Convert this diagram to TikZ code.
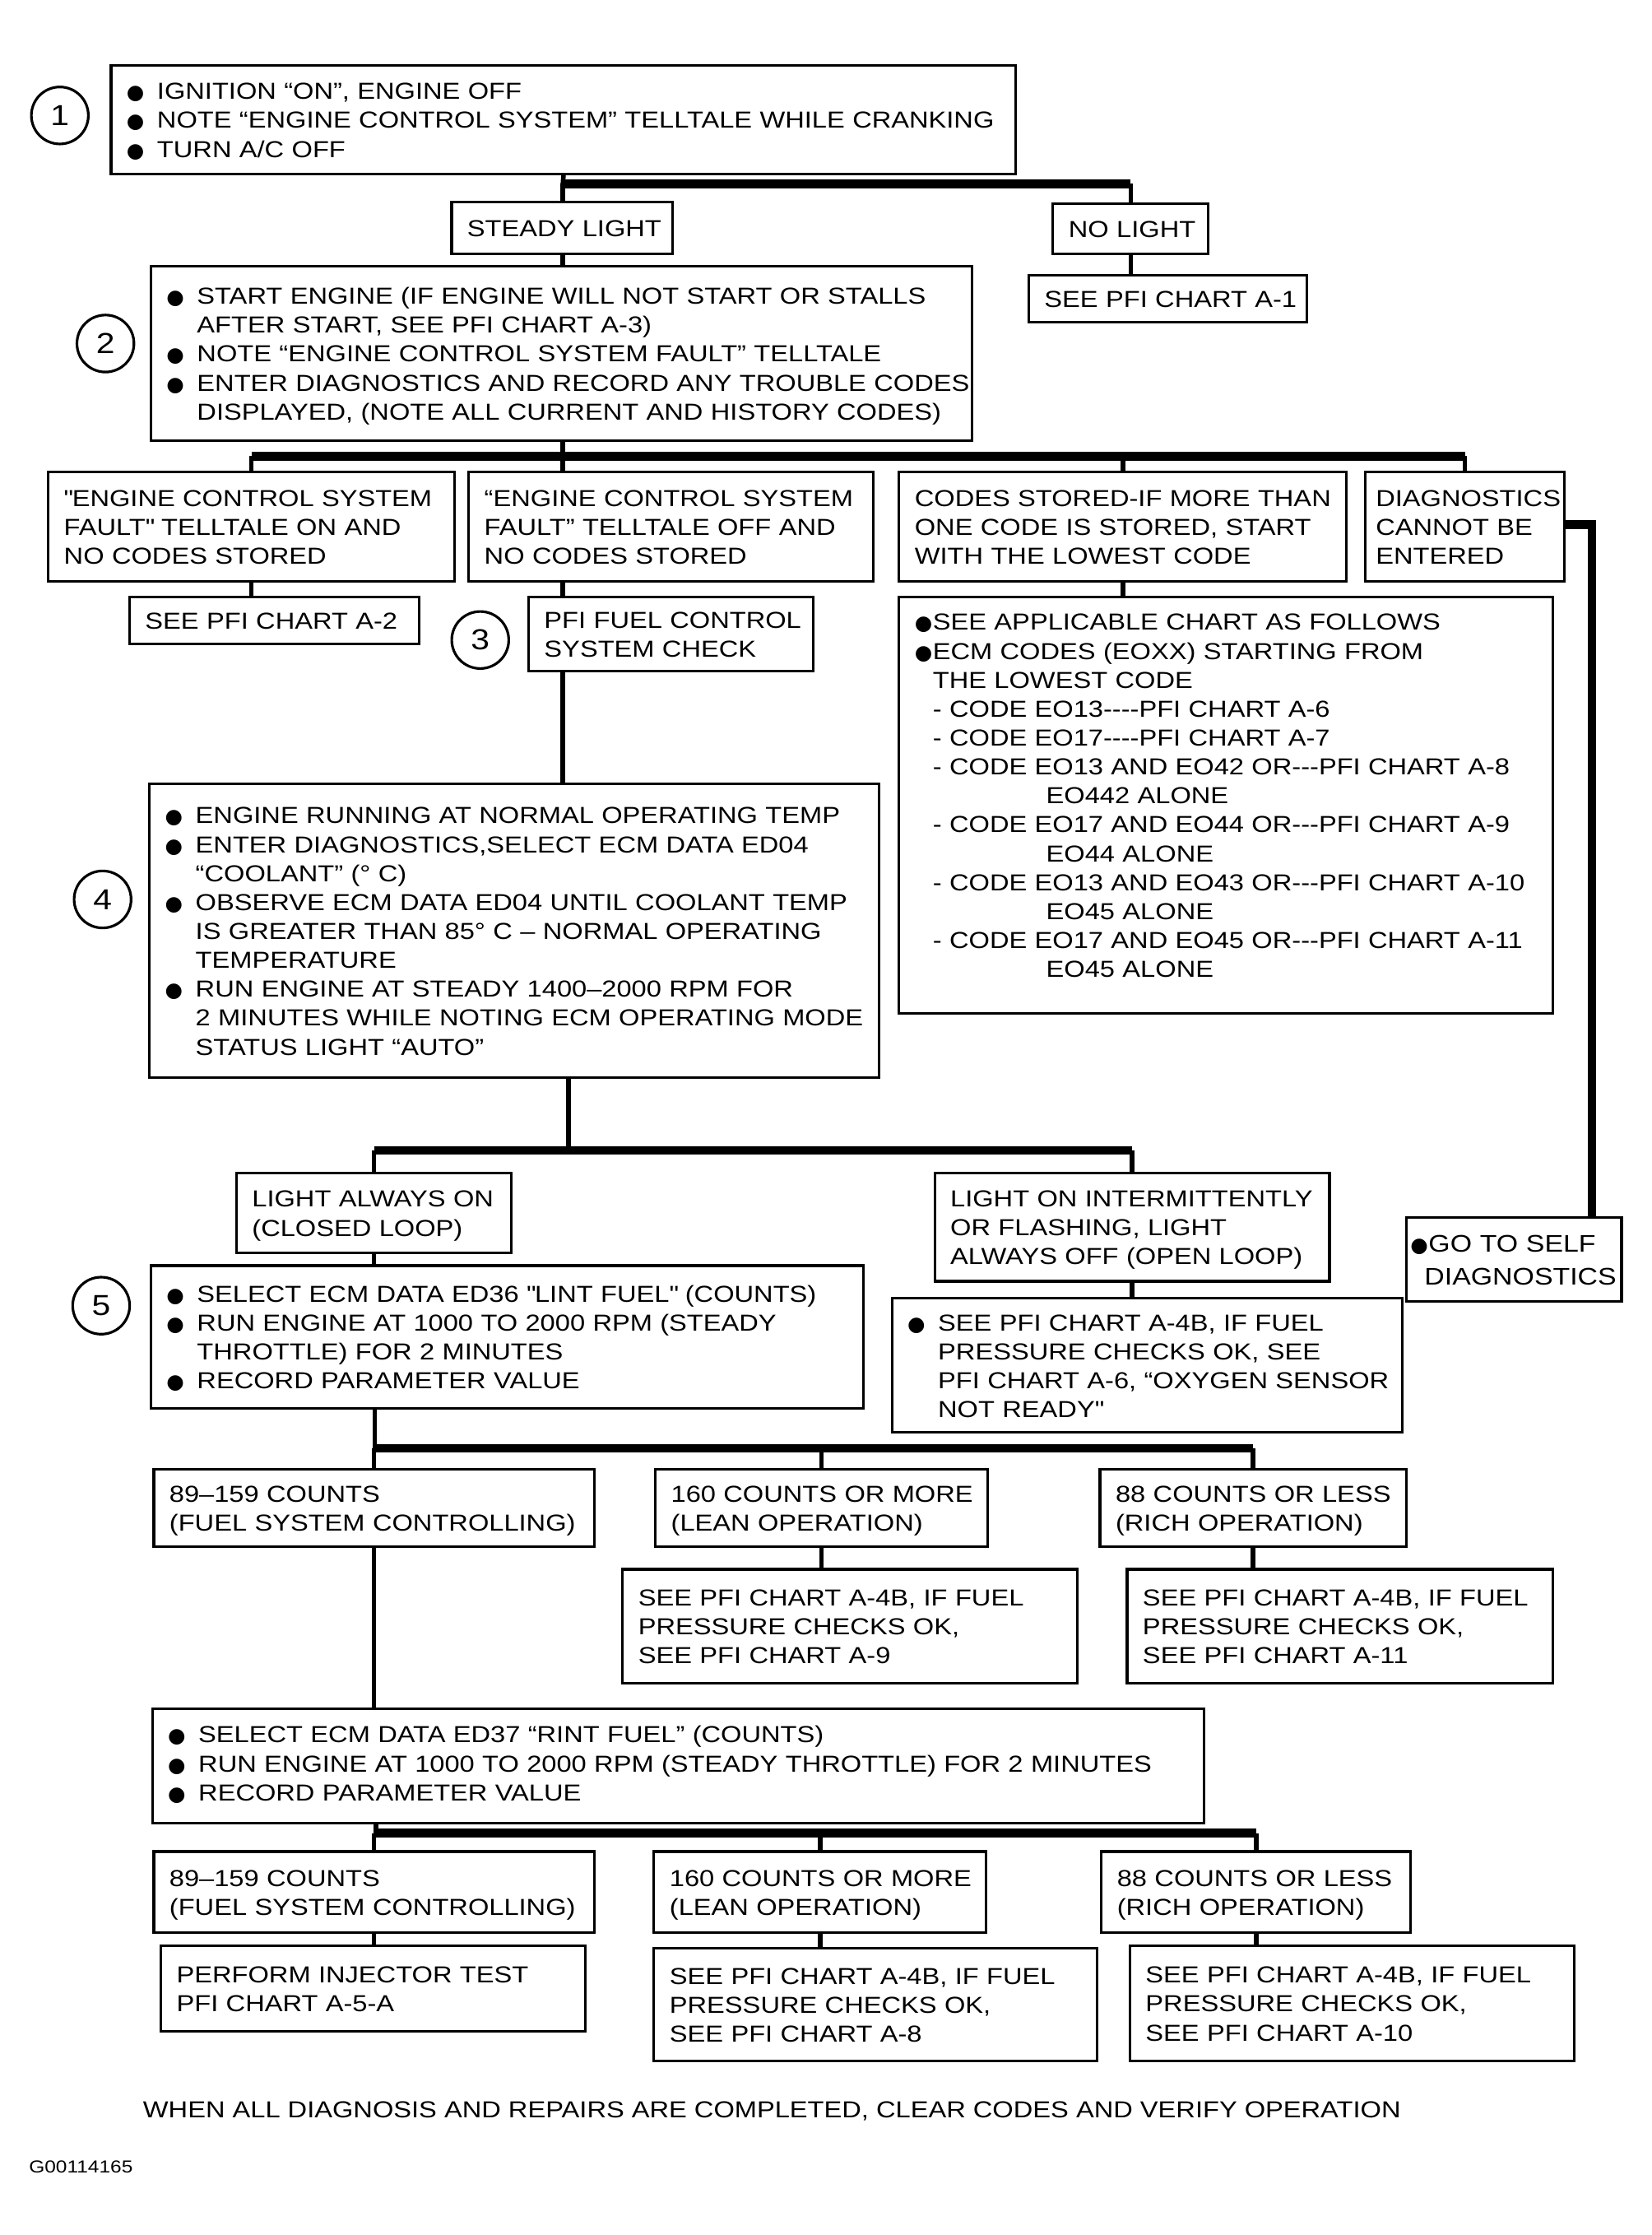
\documentclass[tikz,border=0pt]{standalone}
\usepackage{fontspec}
\setmainfont{Liberation Sans}[FakeStretch=1.16]
\newfontfamily\dotfont{DejaVu Sans}
\usetikzlibrary{calc}

\def\ux{0.017325cm}
\newcommand{\bul}{\makebox[0.37cm][l]{\dotfont\fontsize{7}{7}\selectfont ●}}
\newcommand{\bult}{\makebox[0.22cm][l]{\dotfont\fontsize{7}{7}\selectfont ●}}
\newcommand{\skipb}{\hspace*{0.37cm}}
\newcommand{\skipt}{\hspace*{0.22cm}}
\newcommand{\qq}{\textquotedbl}
\newcommand{\lns}[2][-1pt]{\raisebox{#1}[\height][\depth]{\begin{tabular}{@{}l@{}}#2\end{tabular}}}

\begin{document}
\begin{tikzpicture}[x=\ux, y=-\ux, font=\fontsize{8}{10}\selectfont,
  bx/.style={draw, line width=0.9pt, anchor=north west, align=left,
             inner xsep=0.19cm, inner ysep=0pt},
  wh/.style 2 args={text width=#1*\ux-0.38cm, minimum height=#2*\ux},
  num/.style={draw, circle, line width=0.9pt, minimum size=40*\ux,
              inner sep=0pt, font=\fontsize{10}{10}\selectfont},
  vl/.style={line width=1.6pt},
  bus/.style={line width=3pt}]

\fill[white] (0,0) rectangle (1159,1568);

% step 1
\node[num] (n1) at (42,81) {1};
\node[bx, wh={635}{76}] (start) at (77,45) {\lns{%
  \bul IGNITION “ON”, ENGINE OFF\\
  \bul NOTE “ENGINE CONTROL SYSTEM” TELLTALE WHILE CRANKING\\
  \bul TURN A/C OFF}};
\node[bx, wh={155}{36}] (steady) at (316,141) {\lns{STEADY LIGHT}};
\node[bx, wh={109}{35}] (nolight) at (738,142) {\lns{NO LIGHT}};
\node[bx, wh={195}{33}] (a1) at (721,192) {\lns{SEE PFI CHART A-1}};

% step 2
\node[num] (n2) at (74,241) {2};
\node[bx, wh={576}{122}] (b2) at (105,186) {\lns{%
  \bul START ENGINE (IF ENGINE WILL NOT START OR STALLS\\
  \skipb AFTER START, SEE PFI CHART A-3)\\
  \bul NOTE “ENGINE CONTROL SYSTEM FAULT” TELLTALE\\
  \bul ENTER DIAGNOSTICS AND RECORD ANY TROUBLE CODES\\
  \skipb DISPLAYED, (NOTE ALL CURRENT AND HISTORY CODES)}};
\node[bx, wh={285}{77}] (fon) at (33,330) {\lns{%
  \qq ENGINE CONTROL SYSTEM\\ FAULT\qq{} TELLTALE ON AND\\ NO CODES STORED}};
\node[bx, wh={284}{77}] (foff) at (328,330) {\lns{%
  “ENGINE CONTROL SYSTEM\\ FAULT” TELLTALE OFF AND\\ NO CODES STORED}};
\node[bx, wh={314}{77}] (codes) at (630,330) {\lns{%
  CODES STORED-IF MORE THAN\\ ONE CODE IS STORED, START\\ WITH THE LOWEST CODE}};
\node[bx, wh={140}{77}, inner xsep=0.13cm, text width=140*\ux-0.26cm] (nodiag) at (957,330)
  {\lns{DIAGNOSTICS\\ CANNOT BE\\ ENTERED}};
\node[bx, wh={203}{33}] (a2) at (90,418) {\lns{SEE PFI CHART A-2}};

% step 3
\node[num] (n3) at (337,449) {3};
\node[bx, wh={200}{52}] (check) at (370,418) {\lns{PFI FUEL CONTROL\\ SYSTEM CHECK}};
\node[bx, wh={459}{292}] (list) at (630,418) {\lns[2.5pt]{%
  \bult SEE APPLICABLE CHART AS FOLLOWS\\
  \bult ECM CODES (EOXX) STARTING FROM\\
  \skipt THE LOWEST CODE\\
  \skipt - CODE EO13-{}-{}-{}-PFI CHART A-6\\
  \skipt - CODE EO17-{}-{}-{}-PFI CHART A-7\\
  \skipt - CODE EO13 AND EO42 OR-{}-{}-PFI CHART A-8\\
  \skipt \phantom{- CODE }\hspace*{0.14cm}EO442 ALONE\\
  \skipt - CODE EO17 AND EO44 OR-{}-{}-PFI CHART A-9\\
  \skipt \phantom{- CODE }\hspace*{0.14cm}EO44 ALONE\\
  \skipt - CODE EO13 AND EO43 OR-{}-{}-PFI CHART A-10\\
  \skipt \phantom{- CODE }\hspace*{0.14cm}EO45 ALONE\\
  \skipt - CODE EO17 AND EO45 OR-{}-{}-PFI CHART A-11\\
  \skipt \phantom{- CODE }\hspace*{0.14cm}EO45 ALONE}};

% step 4
\node[num] (n4) at (72,631) {4};
\node[bx, wh={512}{206}] (b4) at (104,549) {\lns{%
  \bul ENGINE RUNNING AT NORMAL OPERATING TEMP\\
  \bul ENTER DIAGNOSTICS,SELECT ECM DATA ED04\\
  \skipb “COOLANT” (° C)\\
  \bul OBSERVE ECM DATA ED04 UNTIL COOLANT TEMP\\
  \skipb IS GREATER THAN 85° C – NORMAL OPERATING\\
  \skipb TEMPERATURE\\
  \bul RUN ENGINE AT STEADY 1400–2000 RPM FOR\\
  \skipb 2 MINUTES WHILE NOTING ECM OPERATING MODE\\
  \skipb STATUS LIGHT “AUTO”}};
\node[bx, wh={193}{56}] (alwon) at (165,822) {\lns{LIGHT ALWAYS ON\\ (CLOSED LOOP)}};
\node[bx, wh={277}{76}] (interm) at (655,822) {\lns{%
  LIGHT ON INTERMITTENTLY\\ OR FLASHING, LIGHT\\ ALWAYS OFF (OPEN LOOP)}};
\node[bx, wh={151}{59}, inner xsep=0.05cm, text width=151*\ux-0.1cm,
      font=\fontsize{8.3}{11.3}\selectfont] (self) at (986,853)
  {\lns{\bult GO TO SELF\\ \hspace*{0.17cm}DIAGNOSTICS}};

% step 5
\node[num] (n5) at (71,916) {5};
\node[bx, wh={500}{100}] (b5) at (105,887) {\lns{%
  \bul SELECT ECM DATA ED36 \qq LINT FUEL\qq{} (COUNTS)\\
  \bul RUN ENGINE AT 1000 TO 2000 RPM (STEADY\\
  \skipb THROTTLE) FOR 2 MINUTES\\
  \bul RECORD PARAMETER VALUE}};
\node[bx, wh={358}{94}] (oxy) at (625,910) {\lns{%
  \bul SEE PFI CHART A-4B, IF FUEL\\
  \skipb PRESSURE CHECKS OK, SEE\\
  \skipb PFI CHART A-6, “OXYGEN SENSOR\\
  \skipb NOT READY\qq}};
\node[bx, wh={309}{54}] (c1a) at (107,1030) {\lns{89–159 COUNTS\\ (FUEL SYSTEM CONTROLLING)}};
\node[bx, wh={233}{54}] (c1b) at (459,1030) {\lns{160 COUNTS OR MORE\\ (LEAN OPERATION)}};
\node[bx, wh={215}{54}] (c1c) at (771,1030) {\lns{88 COUNTS OR LESS\\ (RICH OPERATION)}};
\node[bx, wh={319}{80}] (r1b) at (436,1100) {\lns{%
  SEE PFI CHART A-4B, IF FUEL\\ PRESSURE CHECKS OK,\\ SEE PFI CHART A-9}};
\node[bx, wh={299}{80}] (r1c) at (790,1100) {\lns{%
  SEE PFI CHART A-4B, IF FUEL\\ PRESSURE CHECKS OK,\\ SEE PFI CHART A-11}};

% rint fuel
\node[bx, wh={738}{80}] (b6) at (106,1198) {\lns[0pt]{%
  \bul SELECT ECM DATA ED37 “RINT FUEL” (COUNTS)\\
  \bul RUN ENGINE AT 1000 TO 2000 RPM (STEADY THROTTLE) FOR 2 MINUTES\\
  \bul RECORD PARAMETER VALUE}};
\node[bx, wh={309}{57}] (c2a) at (107,1298) {\lns{89–159 COUNTS\\ (FUEL SYSTEM CONTROLLING)}};
\node[bx, wh={233}{57}] (c2b) at (458,1298) {\lns{160 COUNTS OR MORE\\ (LEAN OPERATION)}};
\node[bx, wh={217}{57}] (c2c) at (772,1298) {\lns{88 COUNTS OR LESS\\ (RICH OPERATION)}};
\node[bx, wh={298}{60}] (r2a) at (112,1364) {\lns{PERFORM INJECTOR TEST\\ PFI CHART A-5-A}};
\node[bx, wh={311}{79}] (r2b) at (458,1366) {\lns{%
  SEE PFI CHART A-4B, IF FUEL\\ PRESSURE CHECKS OK,\\ SEE PFI CHART A-8}};
\node[bx, wh={312}{81}] (r2c) at (792,1364) {\lns{%
  SEE PFI CHART A-4B, IF FUEL\\ PRESSURE CHECKS OK,\\ SEE PFI CHART A-10}};

\node[anchor=west, inner sep=0pt] (note) at (100,1481)
  {WHEN ALL DIAGNOSIS AND REPAIRS ARE COMPLETED, CLEAR CODES AND VERIFY OPERATION};
\node[anchor=west, inner sep=0pt, font=\fontsize{6}{7}\selectfont] (fig) at (20,1520) {G00114165};

% junctions of the branch lines
\coordinate (j1) at (395,129);
\coordinate (j2) at (395,320);
\coordinate (j3) at (1117,368);
\coordinate (j4) at (399,807);
\coordinate (j5) at (263,1016);
\coordinate (j6) at (264,1286);

% connectors
\draw[vl] (start.south) -- (j1);
\draw[bus] (j1) -- (j1 -| nolight.north);
\draw[vl] (j1 -| nolight.north) -- (nolight.north);
\draw[vl] (j1) -- (j1 |- steady.north);
\draw[vl] (j1 |- steady.south) -- (j1 |- b2.north);
\draw[vl] (nolight.south) -- (nolight.south |- a1.north);

\draw[vl] (j2 |- b2.south) -- (j2);
\draw[bus] (j2 -| fon.north) -- (j2 -| nodiag.north);
\foreach \n in {fon,codes,nodiag}
  \draw[vl] (j2 -| \n.north) -- (\n.north);
\draw[vl] (j2) -- (j2 |- foff.north);
\draw[vl] (fon.south) -- (fon.south |- a2.north);
\draw[vl] (j2 |- foff.south) -- (j2 |- check.north);
\draw[vl] (codes.south) -- (codes.south |- list.north);
\draw[bus] (nodiag.east |- j3) -- (j3) -- (j3 |- self.north);

\draw[vl] (j2 |- check.south) -- (j2 |- b4.north);
\draw[vl] (j4 |- b4.south) -- (j4);
\draw[bus] (j4 -| alwon.north) -- (j4 -| interm.north);
\foreach \n in {alwon,interm}
  \draw[vl] (j4 -| \n.north) -- (\n.north);
\draw[vl] (alwon.south) -- (alwon.south |- b5.north);
\draw[vl] (interm.south) -- (interm.south |- oxy.north);

\draw[vl] (j5 |- b5.south) -- (j5);
\draw[bus] (j5 -| c1a.north) -- (j5 -| c1c.north);
\foreach \n in {c1a,c1b,c1c}
  \draw[vl] (j5 -| \n.north) -- (\n.north);
\draw[vl] (c1a.south) -- (c1a.south |- b6.north);
\draw[vl] (c1b.south) -- (c1b.south |- r1b.north);
\draw[vl] (c1c.south) -- (c1c.south |- r1c.north);

\draw[vl] (j6 |- b6.south) -- (j6);
\draw[bus] (j6 -| c2a.north) -- (j6 -| c2c.north);
\foreach \n/\m in {c2a/r2a,c2b/r2b,c2c/r2c}{
  \draw[vl] (j6 -| \n.north) -- (\n.north);
  \draw[vl] (\n.south) -- (\n.south |- \m.north);}
\end{tikzpicture}
\end{document}
